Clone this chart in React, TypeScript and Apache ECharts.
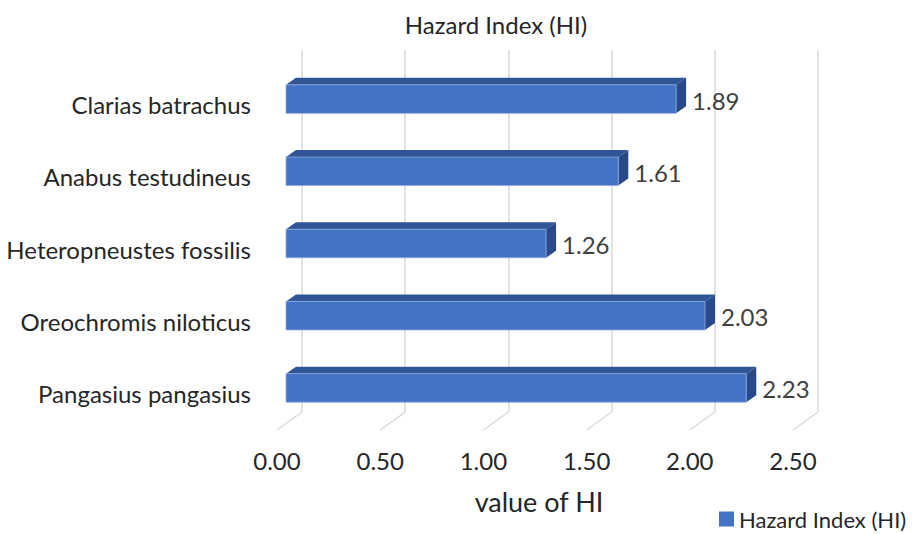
import React, { useEffect, useRef } from "react";
import * as echarts from "echarts";

// Hazard Index values per fish species
const categories = [
  "Clarias batrachus",
  "Anabus testudineus",
  "Heteropneustes fossilis",
  "Oreochromis niloticus",
  "Pangasius pangasius",
];
const hiValues = [1.89, 1.61, 1.26, 2.03, 2.23];
const xTicks = [0, 0.5, 1, 1.5, 2, 2.5];
const seriesName = "Hazard Index (HI)";
const axisName = "value of HI";

const FONT = "Lato";
const TEXT = "#262626";

export default function App() {
  const ref = useRef<HTMLDivElement>(null);

  useEffect(() => {
    if (!ref.current) return;
    const chart = echarts.init(ref.current, undefined, { renderer: "svg" });

    // faux-3D depth of the bar prisms (screen offset of the back face)
    const dx = 10;
    const dy = -7;

    const option: any = {
      animation: false,
      backgroundColor: "#ffffff",
      textStyle: { fontFamily: FONT },
      title: {
        text: seriesName,
        left: 491,
        top: 7,
        textAlign: "center",
        textStyle: { fontFamily: FONT, fontSize: 24, fontWeight: "normal", color: TEXT },
      },
      legend: {
        data: [seriesName],
        left: 714,
        top: 503,
        icon: "rect",
        itemWidth: 15,
        itemHeight: 15,
        itemGap: 4,
        textStyle: { fontFamily: FONT, fontSize: 22, color: TEXT },
      },
      grid: [
        // back wall (vertical gridlines)
        { left: 302, top: 50, width: 516, height: 362 },
        // front floor edge (axis labels)
        { left: 277, top: 68, width: 516, height: 362 },
        // plane of the bars' front faces
        { left: 286, top: 63, width: 516, height: 361 },
      ],
      xAxis: [
        {
          gridIndex: 0,
          type: "value",
          min: 0,
          max: 2.5,
          interval: 0.5,
          axisLine: { show: false },
          axisTick: { show: false },
          axisLabel: { show: false },
          splitLine: { show: true, lineStyle: { color: "#d9d9d9", width: 1.5 } },
        },
        {
          gridIndex: 1,
          type: "value",
          min: 0,
          max: 2.5,
          interval: 0.5,
          axisLine: { show: false },
          axisTick: { show: false },
          splitLine: { show: false },
          axisLabel: {
            margin: 18,
            fontFamily: FONT,
            fontSize: 24,
            color: TEXT,
            formatter: (v: number) => v.toFixed(2),
          },
          name: axisName,
          nameLocation: "middle",
          nameGap: 58,
          nameTextStyle: { fontFamily: FONT, fontSize: 27, color: TEXT, padding: [0, 0, 0, 8] },
        },
        {
          gridIndex: 2,
          type: "value",
          min: 0,
          max: 2.5,
          interval: 0.5,
          show: false,
        },
      ],
      yAxis: [
        { gridIndex: 0, type: "value", min: 0, max: 1, show: false },
        {
          gridIndex: 1,
          type: "category",
          data: categories,
          inverse: true,
          axisLine: { show: false },
          axisTick: { show: false },
          axisLabel: {
            margin: 26,
            fontFamily: FONT,
            fontSize: 24,
            color: TEXT,
          },
        },
        {
          gridIndex: 2,
          type: "category",
          data: categories,
          inverse: true,
          show: false,
        },
      ],
      series: [
        {
          // floor gridlines receding toward the front
          type: "custom",
          xAxisIndex: 0,
          yAxisIndex: 0,
          silent: true,
          data: xTicks.map((t) => [t, 0]),
          renderItem: (params: any, api: any) => {
            const p = api.coord([api.value(0), 0]);
            return {
              type: "line",
              shape: { x1: p[0], y1: p[1], x2: p[0] - 25, y2: p[1] + 18 },
              style: { stroke: "#d9d9d9", lineWidth: 1.5 },
            };
          },
        },
        {
          name: seriesName,
          type: "custom",
          xAxisIndex: 2,
          yAxisIndex: 2,
          itemStyle: { color: "#4472C4" },
          encode: { x: 0, y: 1 },
          data: hiValues.map((v, i) => [v, i]),
          renderItem: (params: any, api: any) => {
            const v = api.value(0);
            const c = api.value(1);
            const p0 = api.coord([0, c]);
            const p1 = api.coord([v, c]);
            const band = api.size([0, 1])[1];
            const h = band * 0.395;
            const top = p0[1] - h / 2;
            const bot = p0[1] + h / 2;
            const x0 = p0[0];
            const x1 = p1[0];
            return {
              type: "group",
              children: [
                {
                  type: "polygon",
                  shape: {
                    points: [
                      [x0, top],
                      [x0 + dx, top + dy],
                      [x1 + dx, top + dy],
                      [x1, top],
                    ],
                  },
                  style: { fill: "#2F5597" },
                },
                {
                  type: "polygon",
                  shape: {
                    points: [
                      [x1, top],
                      [x1 + dx, top + dy],
                      [x1 + dx, bot + dy],
                      [x1, bot],
                    ],
                  },
                  style: { fill: "#284A8A" },
                },
                {
                  type: "rect",
                  shape: { x: x0, y: top, width: x1 - x0, height: h },
                  style: { fill: "#4472C4", stroke: "#8FAADC", lineWidth: 0.8 },
                },
                {
                  type: "text",
                  style: {
                    text: v.toFixed(2),
                    x: x1 + dx + 6,
                    y: p0[1] + 1,
                    verticalAlign: "middle",
                    align: "left",
                    fontFamily: FONT,
                    fontSize: 24,
                    fill: "#404040",
                  },
                },
              ],
            };
          },
        },
      ],
    };

    chart.setOption(option);
    return () => chart.dispose();
  }, []);

  return (
    <div
      ref={ref}
      style={{ position: "fixed", left: 0, top: 0, width: 918, height: 534, background: "#fff" }}
    />
  );
}
